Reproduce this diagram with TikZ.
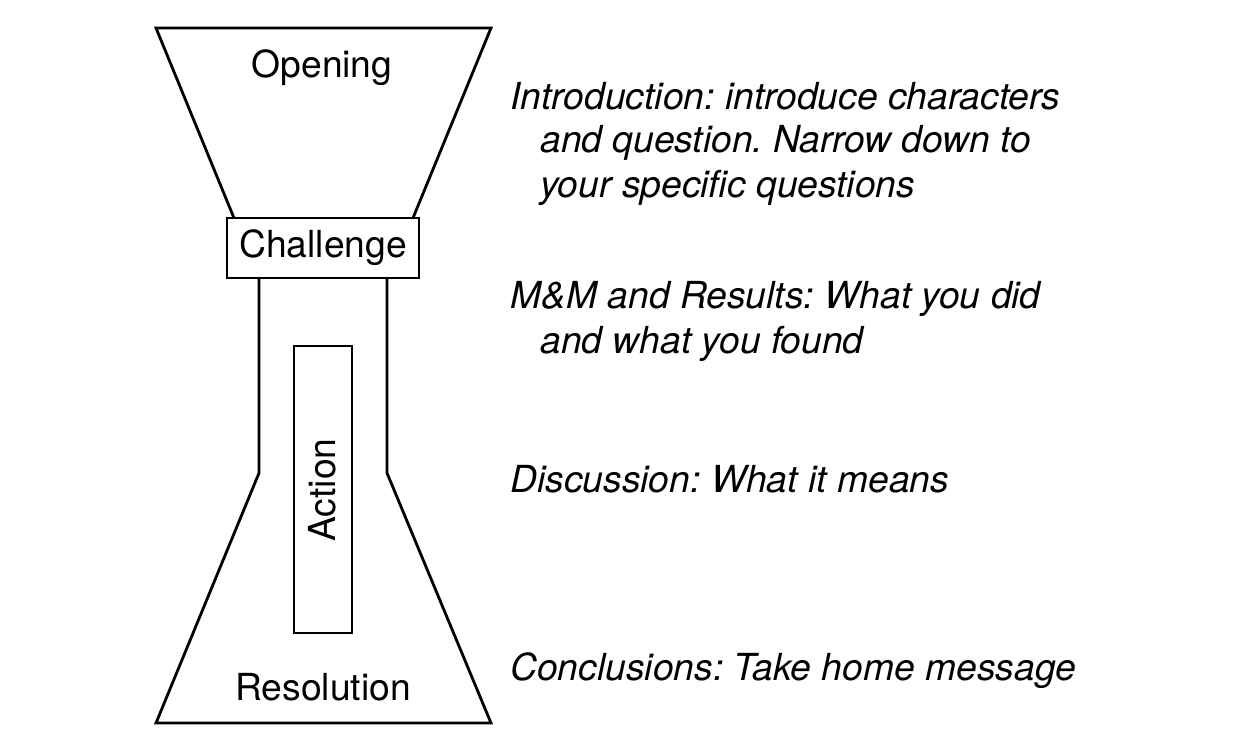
\documentclass[tikz,border=0pt]{standalone}
\usepackage{fontspec}
\setmainfont{TeX Gyre Heros}
\frenchspacing
\begin{document}
\begin{tikzpicture}[x=0.02cm,y=-0.02cm,
  outline/.style={line width=1.6pt,line join=miter},
  lbl/.style={font=\fontsize{21.2}{25}\selectfont,inner sep=0pt},
  note/.style={font=\fontsize{21.2}{25}\selectfont\itshape,inner sep=0pt,anchor=base west}]
\useasboundingbox (0,0) rectangle (1256,738);
% top funnel
\draw[outline] (234,218) -- (156,28) -- (491,28) -- (413,218);
% challenge box
\node[draw,outline,minimum width=192*0.02cm,minimum height=60*0.02cm,inner sep=0pt,lbl] (chal) at (323,248) {Challenge};
% neck and flask
\draw[outline] (259,278) -- (259,473) -- (156,723) -- (491,723) -- (387,473) -- (387,278);
% action box
\node[draw,line width=0.7pt,minimum width=58*0.02cm,minimum height=287*0.02cm,inner sep=0pt] (actbox) at (323,489.5) {};
\node[lbl,rotate=90] (act) at (322,490) {Action};
\node[lbl] (open) at (322,68) {Opening};
\node[lbl] (res) at (323,687) {Resolution};
% notes
\node[note] (n1a) at (510,109) {Introduction: introduce characters};
\node[note] (n1b) at (540,152) {and question. Narrow down to};
\node[note] (n1c) at (540,197) {your specific questions};
\node[note] (n2a) at (510,308) {M\&M and Results: What you did};
\node[note] (n2b) at (540,353) {and what you found};
\node[note] (n3) at (510,492) {Discussion: What it means};
\node[note] (n4) at (510,680) {Conclusions: Take home message};
\end{tikzpicture}
\end{document}
